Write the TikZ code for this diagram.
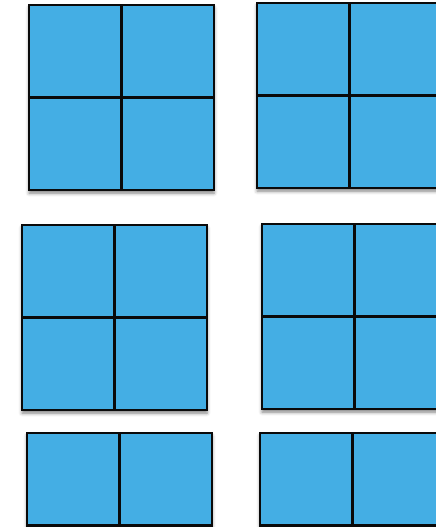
\documentclass[tikz,border=0pt]{standalone}
\usetikzlibrary{shadows.blur}
\definecolor{sqblue}{HTML}{44AEE4}
\definecolor{sqedge}{HTML}{0A0A0A}

\begin{document}
\begin{tikzpicture}[x=1pt, y=-1pt,
  block/.style={fill=sqblue, blur shadow={shadow xshift=0pt, shadow yshift=-3pt,
    shadow blur radius=3.5pt, shadow opacity=50}},
  cell/.style={draw=sqedge, line width=2.2pt}]

% Canvas
\useasboundingbox (0,0) rectangle (436,527);
\clip (0,0) rectangle (436,527);

% Blocks of squares: left x / top y / rows
\foreach \bx/\by/\rows in {29/5/2, 257/3/2, 22/225/2, 262/224/2, 27/433/1, 260/433/1} {
  \fill[block] (\bx,\by) rectangle ++(185,{92.5*\rows});
  \foreach \c in {0,1} {
    \foreach \r in {1,...,\rows} {
      \draw[cell] ({\bx+92.5*\c},{\by+92.5*(\r-1)}) rectangle ++(92.5,92.5);
    }
  }
}

\end{tikzpicture}
\end{document}
